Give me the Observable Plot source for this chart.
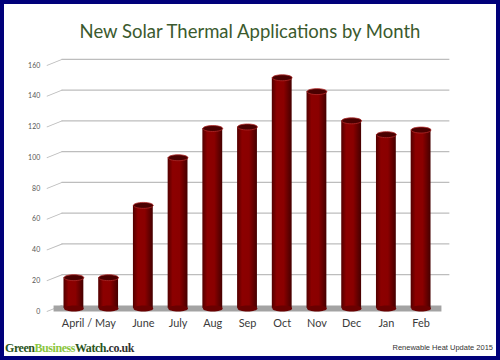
<!DOCTYPE html>
<html>
<head>
<meta charset="utf-8">
<script src="https://cdn.jsdelivr.net/npm/d3@7"></script>
<script src="https://cdn.jsdelivr.net/npm/@observablehq/plot@0.6"></script>
<style>
  html, body { margin: 0; padding: 0; background: #fff; }
  #frame { width: 500px; height: 360px; box-sizing: border-box; border: 4px solid #00007a; position: relative; background: #fff; overflow: hidden; }
  #title { position: absolute; top: 16px; left: -4px; width: 500px; text-align: center; font-family: Lato, "Open Sans", sans-serif; font-size: 18.5px; line-height: 22px; color: #3b5a2e; }
  #chart { position: absolute; top: 46px; left: -4px; }
  #site { position: absolute; left: 1px; top: 337px; font-family: "Liberation Serif", "DejaVu Serif", serif; font-size: 12px; line-height: 14px; font-weight: bold; letter-spacing: -0.45px; }
  #credit { position: absolute; right: 3px; top: 339px; font-family: "Liberation Sans", Arial, sans-serif; font-size: 7.5px; line-height: 10px; color: #333; }
</style>
</head>
<body>
<div id="frame">
  <div id="title">New Solar Thermal Applications by Month</div>
  <div id="chart"></div>
  <div id="site"><span style="color:#2a5520">Green</span><span style="color:#8cc63f">Business</span><span style="color:#2a5520">Watch</span><span style="color:#333">.co.uk</span></div>
  <div id="credit">Renewable Heat Update 2015</div>
</div>
<script>
const months = ["April", "May", "June", "July", "Aug", "Sep", "Oct", "Nov", "Dec", "Jan", "Feb"];
const applications = [20, 20, 67, 98, 117, 118, 150, 141, 122, 113, 116];
const yTicks = [0, 20, 40, 60, 80, 100, 120, 140, 160];
const firstLabel = "April / May";

const data = months.map((m, i) => ({month: m, value: applications[i]}));

const ellipse = {
  draw(ctx) {
    const rx = 10, ry = 3, k = 0.5523;
    ctx.moveTo(rx, 0);
    ctx.bezierCurveTo(rx, ry * k, rx * k, ry, 0, ry);
    ctx.bezierCurveTo(-rx * k, ry, -rx, ry * k, -rx, 0);
    ctx.bezierCurveTo(-rx, -ry * k, -rx * k, -ry, 0, -ry);
    ctx.bezierCurveTo(rx * k, -ry, rx, -ry * k, rx, 0);
    ctx.closePath();
  }
};

const segment = {
  draw(ctx, l) { ctx.moveTo(0, 0); ctx.lineTo(0, -l); }
};

const defs = () => {
  const g = d3.create("svg:defs");
  const lg = g.append("linearGradient").attr("id", "barGrad").attr("x1", "0").attr("x2", "1").attr("y1", "0").attr("y2", "0");
  lg.append("stop").attr("offset", "0%").attr("stop-color", "#520000");
  lg.append("stop").attr("offset", "25%").attr("stop-color", "#8c0000");
  lg.append("stop").attr("offset", "60%").attr("stop-color", "#8a0000");
  lg.append("stop").attr("offset", "100%").attr("stop-color", "#450000");
  return g.node();
};

const chart = Plot.plot({
  width: 500,
  height: 290,
  marginTop: 15,
  marginBottom: 27,
  marginLeft: 47,
  marginRight: 47,
  style: {background: "transparent", fontFamily: "Lato, sans-serif"},
  x: {domain: months, paddingInner: 0.44, paddingOuter: 0.4, insetRight: 3, label: null},
  y: {domain: [0, 160], label: null},
  marks: [
    defs,
    Plot.ruleY(yTicks.slice(1), {stroke: "#bdbdbd", strokeWidth: 1.2, dx: 15, dy: -6, insetRight: 15}),
    Plot.vector(yTicks, {y: d => d, frameAnchor: "left", length: 16.2, rotate: 68.2, anchor: "start", shape: segment, stroke: "#bdbdbd", strokeWidth: 1}),
    Plot.axisY({ticks: yTicks, tickSize: 0, tickPadding: 7, fontSize: 7, fill: "#555", line: true, stroke: "#c4c4c4"}),
    Plot.axisY({ticks: [], tickSize: 0, line: true, stroke: "#c8c8c8", dx: 15, dy: -6}),
    Plot.axisY({anchor: "right", ticks: [], tickSize: 0, line: true, stroke: "#c8c8c8", dy: -6}),
    Plot.ruleY([0], {stroke: "#a3a3a3", strokeWidth: 6, dy: -3, dx: 7, insetRight: 15}),
    Plot.barY(data, {x: "month", y: "value", fill: "url(#barGrad)", dy: -3}),
    Plot.dot(data, {x: "month", y: 0, symbol: ellipse, r: 1, fill: "#6a0000", stroke: "none", dy: -3}),
    Plot.dot(data, {x: "month", y: "value", symbol: ellipse, r: 1, fill: "#4a0000", stroke: "#b22a2a", strokeWidth: 0.8, dy: -3}),
    Plot.axisX({ticks: months.slice(0, 1), tickFormat: () => firstLabel, dx: 15, tickSize: 0, tickPadding: 8, fontSize: 11, fill: "#3a3a3a"}),
    Plot.axisX({ticks: months.slice(2), tickSize: 0, tickPadding: 8, fontSize: 11, fill: "#3a3a3a"})
  ]
});
document.getElementById("chart").appendChild(chart);
</script>
</body>
</html>
